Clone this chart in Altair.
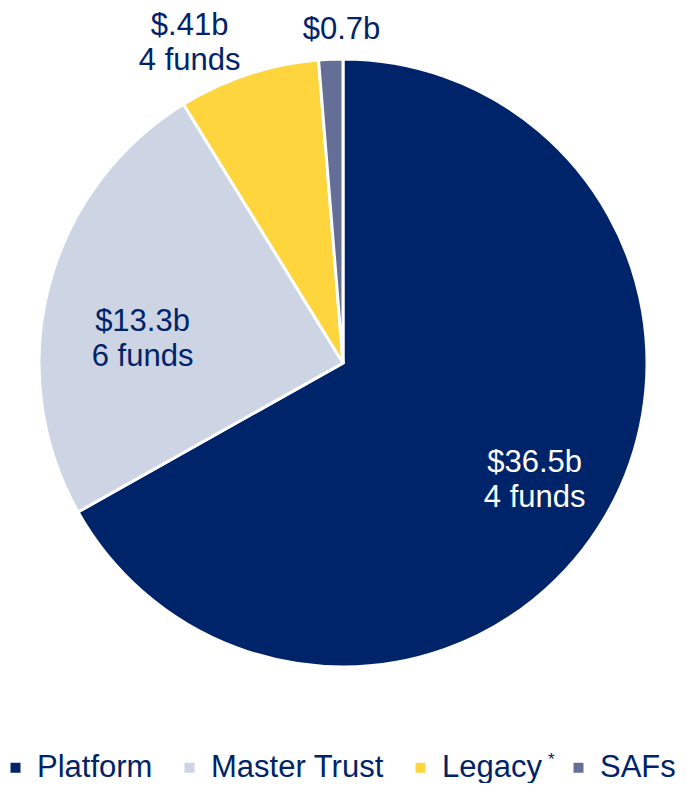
import altair as alt
import pandas as pd

categories = ["Platform", "Master Trust", "Legacy", "SAFs"]
values = [36.5, 13.3, 4.1, 0.7]
amount_labels = ["$36.5b", "$13.3b", "$.41b", "$0.7b"]
fund_labels = ["4 funds", "6 funds", "4 funds", ""]
colors = ["#002469", "#CDD4E4", "#FFD53D", "#646E96"]
text_colors = ["white", "#002469", "#002469", "#002469"]

df = pd.DataFrame({
    "category": categories,
    "value": values,
    "order": list(range(len(categories))),
    "label": [[a, f] if f else [a] for a, f in zip(amount_labels, fund_labels)],
    "tcolor": text_colors,
})

FONT = "Liberation Sans"
TOTAL = sum(values)

arc = alt.Chart(df).mark_arc(outerRadius=304, stroke="white", strokeWidth=3).encode(
    theta=alt.Theta("value:Q", stack=True),
    order=alt.Order("order:Q"),
    color=alt.Color(
        "category:N",
        scale=alt.Scale(domain=categories, range=colors),
        sort=categories,
        legend=alt.Legend(
            title=None,
            orient="none",
            direction="horizontal",
            legendX=-8,
            legendY=744,
            padding=0,
            symbolType="square",
            symbolSize=100,
            symbolStrokeWidth=0,
            labelFont=FONT,
            labelFontSize=31,
            labelColor="#002469",
            labelOffset=6,
            columnPadding=21,
            labelLimit=400,
        ),
    ),
)

label_specs = [
    ("Platform", 222, 0, -12),
    ("Master Trust", 205, -2, 10),
    ("Legacy", 345, -46, -9),
    ("SAFs", 336, 12, 3),
]

stacked = alt.Chart(df).transform_window(
    cum="sum(value)", sort=[alt.SortField("order")], frame=[None, 0]
).transform_calculate(
    mid="datum.cum - datum.value / 2"
)

layers = [arc]
for cat, r, dx, dy in label_specs:
    layers.append(
        stacked.mark_text(
            radius=r, dx=dx, dy=dy, font=FONT, fontSize=31,
            lineHeight=35, align="center", baseline="middle",
        ).encode(
            theta=alt.Theta("mid:Q", scale=alt.Scale(domain=[0, TOTAL]), stack=False),
            text="label:N",
            color=alt.Color("tcolor:N", scale=None),
        ).transform_filter(alt.datum.category == cat)
    )

asterisk = alt.Chart(df.head(1)).mark_text(
    text="*", font=FONT, fontSize=17, color="#002469", align="left", baseline="middle"
).encode(x=alt.value(540), y=alt.value(752))
layers.append(asterisk)

chart = alt.layer(*layers).resolve_scale(theta="independent").properties(
    width=670, height=710,
    padding={"left": 0, "top": 0, "right": 1, "bottom": 65},
    autosize=alt.AutoSizeParams(type="none"),
).configure_view(stroke=None)

chart.save("out.html", embed_options={"renderer": "svg", "actions": False})
